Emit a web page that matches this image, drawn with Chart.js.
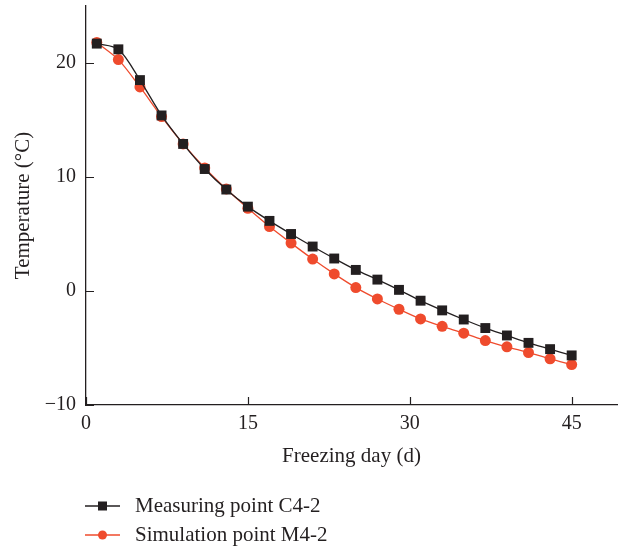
<!DOCTYPE html>
<html>
<head>
<meta charset="utf-8">
<script src="https://cdn.jsdelivr.net/npm/chart.js@4/dist/chart.umd.min.js"></script>
<style>
  body { margin: 0; background: #fff; }
  #wrap { position: relative; width: 618px; height: 549px; }
  #legend { position: absolute; left: 85px; top: 491px; font-family: "Liberation Serif", serif; font-size: 21px; color: #231f20; }
  .row { display: flex; align-items: center; height: 29px; }
  .row svg { margin-right: 15px; }
</style>
</head>
<body>
<div id="wrap">
  <canvas id="chart" width="618" height="549"></canvas>
  <div id="legend"></div>
</div>
<script>
const days = [1, 3, 5, 7, 9, 11, 13, 15, 17, 19, 21, 23, 25, 27, 29, 31, 33, 35, 37, 39, 41, 43, 45];
const measured = [21.7, 21.2, 18.5, 15.4, 12.9, 10.7, 8.9, 7.4, 6.15, 5.0, 3.9, 2.85, 1.85, 1.0, 0.1, -0.85, -1.7, -2.5, -3.25, -3.9, -4.55, -5.1, -5.65];
const simulated = [21.8, 20.3, 17.9, 15.3, 12.9, 10.8, 8.95, 7.25, 5.65, 4.2, 2.8, 1.5, 0.3, -0.7, -1.6, -2.45, -3.1, -3.7, -4.35, -4.9, -5.4, -5.95, -6.45];
const xTicks = [0, 15, 30, 45];
const yTicks = [-10, 0, 10, 20];

const black = "#231f20";
const red = "#ef4b2d";
const tickFont = { family: "Liberation Serif", size: 20 };
const titleFont = { family: "Liberation Serif", size: 21 };

// tick marks pointing into the plot
const innerTicks = {
  id: "innerTicks",
  afterDraw(chart) {
    const { ctx, scales: { x, y } } = chart;
    ctx.save();
    ctx.strokeStyle = black;
    ctx.lineWidth = 1.2;
    ctx.beginPath();
    xTicks.forEach(v => {
      const px = Math.round(x.getPixelForValue(v)) + 0.5;
      ctx.moveTo(px, y.bottom);
      ctx.lineTo(px, y.bottom - 8);
    });
    yTicks.forEach(v => {
      const py = Math.round(y.getPixelForValue(v)) + 0.5;
      ctx.moveTo(x.left, py);
      ctx.lineTo(x.left + 8, py);
    });
    ctx.stroke();
    ctx.restore();
  }
};

new Chart(document.getElementById("chart"), {
  type: "line",
  data: {
    datasets: [{
      label: "Measuring point C4-2",
      data: days.map((d, i) => ({ x: d, y: measured[i] })),
      borderColor: black,
      backgroundColor: black,
      borderWidth: 1.3,
      pointStyle: "rect",
      pointRadius: 7,
      pointBorderWidth: 0,
      tension: 0.3
    }, {
      label: "Simulation point M4-2",
      data: days.map((d, i) => ({ x: d, y: simulated[i] })),
      borderColor: red,
      backgroundColor: red,
      borderWidth: 1.3,
      pointStyle: "circle",
      pointRadius: 5.5,
      pointBorderWidth: 0,
      tension: 0.3
    }]
  },
  options: {
    responsive: false,
    animation: false,
    devicePixelRatio: 1,
    layout: { autoPadding: false, padding: { top: 6, right: 1, left: 0, bottom: 80 } },
    plugins: { legend: { display: false }, tooltip: { enabled: false } },
    scales: {
      x: {
        type: "linear",
        min: 0,
        max: 49.2,
        afterBuildTicks: s => { s.ticks = xTicks.map(v => ({ value: v })); },
        afterFit: s => { s.height = 64; s.paddingLeft = 0; s.paddingRight = 0; },
        grid: { display: false, drawTicks: false },
        border: { display: true, color: black, width: 1.3 },
        ticks: { font: tickFont, color: black, padding: 7 },
        title: { display: true, text: "Freezing day (d)", font: titleFont, color: black, padding: { top: 0, bottom: 0 } }
      },
      y: {
        min: -10,
        max: 25,
        afterBuildTicks: s => { s.ticks = yTicks.map(v => ({ value: v })); },
        afterFit: s => { s.width = 86; s.paddingTop = 0; s.paddingBottom = 0; },
        grid: { display: false, drawTicks: false },
        border: { display: true, color: black, width: 1.3 },
        ticks: { font: tickFont, color: black, padding: 10, callback: v => v < 0 ? "\u2212" + Math.abs(v) : v },
        title: { display: true, text: "Temperature (\u00b0C)", font: titleFont, color: black, padding: { top: 11, bottom: 0 } }
      }
    }
  },
  plugins: [innerTicks]
});

// legend below the plot
const legendItems = [
  { label: "Measuring point C4-2", color: black, marker: '<rect x="13" y="2.5" width="9" height="9"/>' },
  { label: "Simulation point M4-2", color: red, marker: '<circle cx="17.5" cy="7" r="4.5"/>' }
];
document.getElementById("legend").innerHTML = legendItems.map(item =>
  `<div class="row"><svg width="35" height="14"><line x1="0" y1="7" x2="35" y2="7" stroke="${item.color}" stroke-width="1.3"/><g fill="${item.color}">${item.marker}</g></svg>${item.label}</div>`
).join("");
</script>
</body>
</html>
